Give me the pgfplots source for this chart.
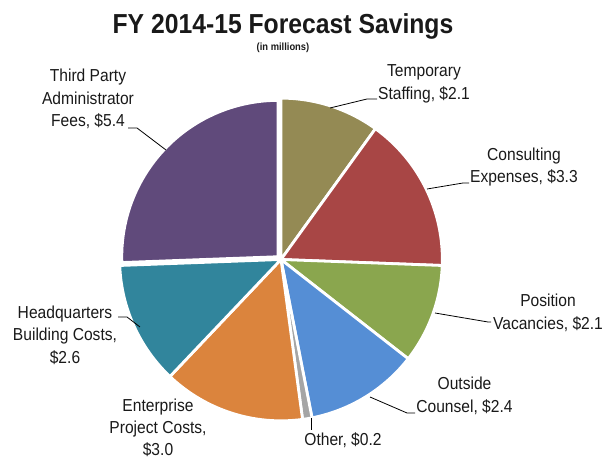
\documentclass[border=0pt]{standalone}
\usepackage{pgfplots}
\pgfplotsset{compat=1.18}
\usepackage{pgfplotstable}
\usepackage{fontspec}
\setmainfont{Liberation Sans}[FakeStretch=0.9]
\definecolor{cTemp}{RGB}{148,138,84}
\definecolor{cCons}{RGB}{168,70,69}
\definecolor{cPos}{RGB}{138,166,78}
\definecolor{cOut}{RGB}{85,142,213}
\definecolor{cOther}{RGB}{165,165,165}
\definecolor{cEnt}{RGB}{219,132,61}
\definecolor{cHQ}{RGB}{49,133,156}
\definecolor{cTPA}{RGB}{96,74,123}
\definecolor{txt}{RGB}{25,25,25}
\pgfplotstableread{
value explode shrink color
2.1 0 0 cTemp
3.3 0 0 cCons
2.1 0 0 cPos
2.4 0 0 cOut
0.2 0 0 cOther
3.0 0 0 cEnt
2.6 0 0 cHQ
5.4 4 5 cTPA
}\piedata
\begin{document}
\begin{tikzpicture}
\begin{axis}[hide axis, scale only axis, width=453pt, height=345pt,
  xmin=0, xmax=604, ymin=0, ymax=460, clip=false]
\addplot[draw=none, forget plot] coordinates {(0,0) (604,460)};
\gdef\cum{0}
\pgfplotsinvokeforeach{0,...,7}{%
  \pgfplotstablegetelem{#1}{value}\of\piedata \let\sv\pgfplotsretval
  \pgfplotstablegetelem{#1}{explode}\of\piedata \let\se\pgfplotsretval
  \pgfplotstablegetelem{#1}{shrink}\of\piedata \let\ss\pgfplotsretval
  \pgfplotstablegetelem{#1}{color}\of\piedata \let\sc\pgfplotsretval
  \pgfmathsetmacro\sa{90-\cum*360/21.1}%
  \pgfmathsetmacro\sb{90-(\cum+\sv)*360/21.1}%
  \pgfmathsetmacro\sm{(\sa+\sb)/2}%
  \pgfmathsetmacro\scx{281+\se*cos(\sm)}%
  \pgfmathsetmacro\scy{200.5+\se*sin(\sm)}%
  \pgfmathsetmacro\sr{121-0.75*\ss}%
  \edef\doit{\noexpand\fill[\sc, draw=white, line width=2.1pt, line join=round] (axis cs:\scx,\scy) -- ++(\sa:\sr pt) arc[start angle=\sa, end angle=\sb, radius=\sr pt] -- cycle;}%
  \doit
  \pgfmathsetmacro\tmp{\cum+\sv}\xdef\cum{\tmp}%
}
% leader lines
\draw[black, line width=0.6pt] (axis cs:330,352) -- (axis cs:367,361) -- (axis cs:377,361);
\draw[black, line width=0.6pt] (axis cs:427,271) -- (axis cs:463,277) -- (axis cs:469,277);
\draw[black, line width=0.6pt] (axis cs:435,147) -- (axis cs:488,138) -- (axis cs:491,138);
\draw[black, line width=0.6pt] (axis cs:370,63) -- (axis cs:407,47) -- (axis cs:415,47);
\draw[black, line width=0.6pt] (axis cs:311,42) -- (axis cs:311,30);
\draw[black, line width=0.6pt] (axis cs:118,143) -- (axis cs:127,143) -- (axis cs:140,133);
\draw[black, line width=0.6pt] (axis cs:128,332) -- (axis cs:137,332) -- (axis cs:166,310);
% labels
\tikzset{lab/.style={align=center, text=txt, inner sep=0pt, font=\fontsize{13}{17}\selectfont}}
\node[lab] at (axis cs:424,376) {Temporary\\Staffing, \$2.1};
\node[lab] at (axis cs:524,293) {Consulting\\Expenses, \$3.3};
\node[lab] at (axis cs:548,147) {Position\\Vacancies, \$2.1};
\node[lab] at (axis cs:464.5,64) {Outside\\Counsel, \$2.4};
\node[lab] at (axis cs:343,20) {Other, \$0.2};
\node[lab, font=\fontsize{13}{16.5}\selectfont] at (axis cs:158,32) {Enterprise\\Project Costs,\\\$3.0};
\node[lab] at (axis cs:65,125) {Headquarters\\Building Costs,\\\$2.6};
\node[lab] at (axis cs:88,361) {Third Party\\Administrator\\Fees, \$5.4};
% titles
\node[text=txt, font=\fontsize{20.6}{24}\selectfont\bfseries] at (axis cs:283,434) {FY 2014-15 Forecast Savings};
\node[text=txt, font=\fontsize{7.8}{9}\selectfont\bfseries] at (axis cs:283,412) {(in millions)};
\end{axis}
\pgfresetboundingbox
\path (0,0) rectangle (453pt,345pt);
\end{tikzpicture}
\end{document}
